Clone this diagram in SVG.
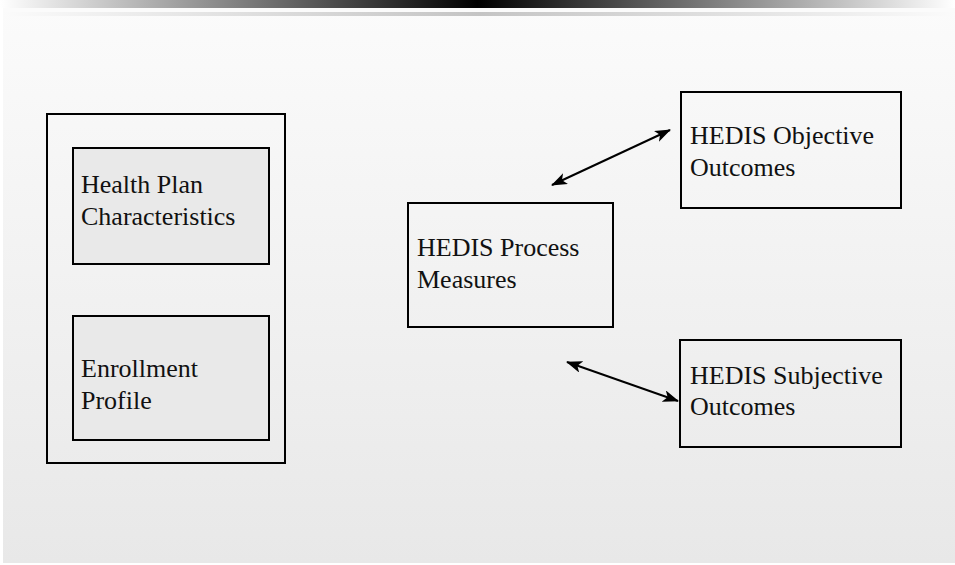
<svg xmlns="http://www.w3.org/2000/svg" width="955" height="565" viewBox="0 0 955 565">
<defs>
<linearGradient id="topbar" x1="0" y1="0" x2="1" y2="0">
<stop offset="0" stop-color="#ffffff"/>
<stop offset="0.5" stop-color="#000000"/>
<stop offset="1" stop-color="#ffffff"/>
</linearGradient>
<linearGradient id="band" x1="0" y1="0" x2="1" y2="0">
<stop offset="0" stop-color="#fbfbfb"/>
<stop offset="0.5" stop-color="#c4c4c4"/>
<stop offset="1" stop-color="#fbfbfb"/>
</linearGradient>
<linearGradient id="bg" x1="0" y1="0" x2="0" y2="1">
<stop offset="0" stop-color="#fbfbfb"/>
<stop offset="1" stop-color="#e8e8e8"/>
</linearGradient>
<marker id="ah" viewBox="0 0 16 12" refX="15" refY="6" markerWidth="16" markerHeight="12" markerUnits="userSpaceOnUse" orient="auto-start-reverse">
<path d="M0,0 L16,6 L0,12 L4,6 Z" fill="#000"/>
</marker>
<style>
.box{stroke:#000;stroke-width:2;fill:none}
.inner{stroke:#000;stroke-width:2;fill:#e9e9e9}
.lbl{font-family:"Liberation Serif","Times New Roman",serif;font-size:26px;fill:#111}
.conn{stroke:#000;stroke-width:2;fill:none;marker-start:url(#ah);marker-end:url(#ah)}
</style>
</defs>
<rect x="0" y="0" width="955" height="565" fill="#ffffff"/>
<rect x="3" y="8" width="952" height="555" fill="url(#bg)"/>
<rect x="0" y="0" width="955" height="8" fill="url(#topbar)"/>
<rect x="3" y="8" width="952" height="4" fill="#fbfbfb"/>
<rect x="3" y="12" width="952" height="4" fill="url(#band)"/>
<g id="outer-group">
<rect class="box" x="47" y="114" width="238" height="349"/>
</g>
<g id="health-plan">
<rect class="inner" x="73" y="148" width="196" height="116"/>
<text class="lbl" x="81" y="193">Health Plan</text>
<text class="lbl" x="81" y="225">Characteristics</text>
</g>
<g id="enrollment">
<rect class="inner" x="73" y="316" width="196" height="124"/>
<text class="lbl" x="81" y="377">Enrollment</text>
<text class="lbl" x="81" y="409">Profile</text>
</g>
<g id="process">
<rect class="box" x="408" y="203" width="205" height="124"/>
<text class="lbl" x="417" y="256">HEDIS Process</text>
<text class="lbl" x="417" y="288">Measures</text>
</g>
<g id="objective">
<rect class="box" x="681" y="92" width="220" height="116"/>
<text class="lbl" x="690" y="144">HEDIS Objective</text>
<text class="lbl" x="690" y="176">Outcomes</text>
</g>
<g id="subjective">
<rect class="box" x="680" y="340" width="221" height="107"/>
<text class="lbl" x="690" y="384">HEDIS Subjective</text>
<text class="lbl" x="690" y="415">Outcomes</text>
</g>
<g id="connectors">
<line class="conn" x1="552" y1="185" x2="670" y2="130"/>
<line class="conn" x1="567" y1="362" x2="678" y2="401"/>
</g>
</svg>
